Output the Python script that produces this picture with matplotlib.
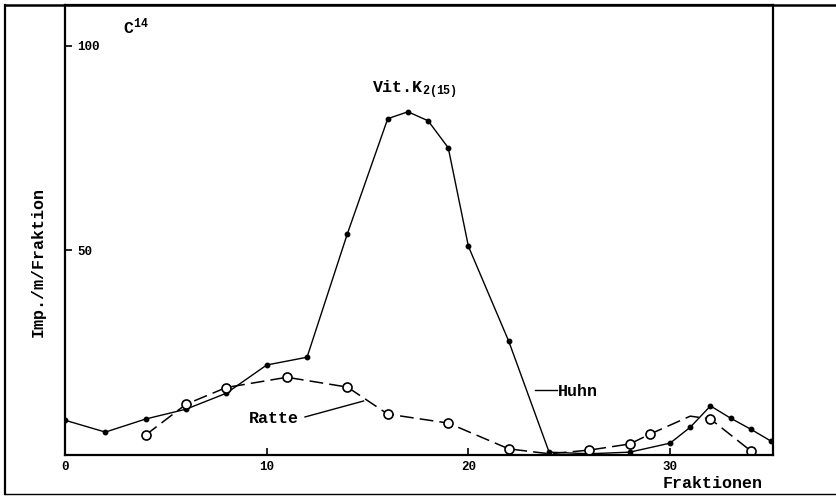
import matplotlib
matplotlib.use("Agg")
import matplotlib.pyplot as plt
from matplotlib.lines import Line2D

# ===================== 数据 =====================
huhn_x = [0, 2, 4, 6, 8, 10, 12, 14, 16, 17, 18, 19, 20, 22, 24, 26, 28, 30, 31, 32, 33, 34, 35]
huhn_y = [8.5, 5.6, 8.8, 11.2, 15.1, 22.0, 23.9, 54.1, 82.2, 83.9, 81.7, 75.1, 51.0, 27.8,
          0.7, 0.3, 0.7, 2.9, 6.8, 12.0, 9.0, 6.3, 3.4]

ratte_x = [4, 6, 8, 11, 14, 16, 19, 22, 24, 26, 28, 29, 31, 32, 34]
ratte_y = [4.9, 12.4, 16.5, 19.0, 16.6, 10.0, 7.8, 1.5, 0.3, 1.2, 2.7, 5.1, 9.5, 8.8, 1.0]
ratte_marked = [0, 1, 2, 3, 4, 5, 6, 7, 9, 10, 11, 13, 14]   # ohne Kreis bei 24 und 31

x_ticks = [0, 10, 20, 30]
y_ticks = [50, 100]

# ===================== 字体 =====================
FONT = "Liberation Mono"
plt.rcParams["font.family"] = [FONT, "DejaVu Sans Mono"]
plt.rcParams["font.weight"] = "bold"
plt.rcParams["mathtext.fontset"] = "custom"
plt.rcParams["mathtext.rm"] = FONT + ":bold"
plt.rcParams["mathtext.it"] = FONT + ":bold"
plt.rcParams["mathtext.bf"] = FONT + ":bold"

W, H = 837, 496
fig = plt.figure(figsize=(W / 100, H / 100), dpi=100)
ax = fig.add_axes([65 / W, 1 - 455 / H, (773 - 65) / W, (455 - 5) / H])

# ===================== 曲线 =====================
ax.plot(huhn_x, huhn_y, color="black", lw=1.0, marker="o", ms=3.2,
        mfc="black", mec="black", solid_joinstyle="round")
ax.plot(ratte_x, ratte_y, color="black", lw=1.1, dashes=(9, 4),
        marker="o", ms=6.5, mfc="white", mec="black", mew=1.2, markevery=ratte_marked)

ax.set_xlim(0, 35.1)
ax.set_ylim(0, 110)

# ===================== 坐标轴 =====================
for s in ax.spines.values():
    s.set_linewidth(1.6)

ax.set_xticks(x_ticks)
ax.set_yticks(y_ticks)
ax.tick_params(axis="x", direction="in", length=5, width=1.2, pad=4, labelsize=9)
ax.tick_params(axis="y", direction="in", length=5, width=1.2, pad=-9, labelsize=9)
for lab in ax.get_yticklabels():
    lab.set_horizontalalignment("left")

# ===================== 文字 =====================
ax.text(2.9, 103, r"C$^{14}$", fontsize=12, ha="left", va="baseline")
ax.text(15.2, 88.5, r"Vit.K$_{2(15)}$", fontsize=12, ha="left", va="baseline")

ax.text(9.1, 7.8, "Ratte", fontsize=12, ha="left", va="baseline")
ax.plot([11.9, 14.8], [9.3, 13.2], color="black", lw=1.0)

ax.text(24.45, 14.4, "Huhn", fontsize=12, ha="left", va="baseline")
ax.plot([23.3, 24.4], [15.9, 15.9], color="black", lw=1.0)

fig.text(38 / W, 1 - 262 / H, "Imp./m/Fraktion", rotation=90, fontsize=12,
         ha="center", va="center")
fig.text(713 / W, 1 - 484 / H, "Fraktionen", fontsize=12, ha="center", va="center")

# ===================== 外框 =====================
fig.add_artist(Line2D([5 / W, 5 / W], [1 - 5 / H, 1 - 494 / H], color="black", lw=1.6))
fig.add_artist(Line2D([5 / W, 1], [1 - 5 / H, 1 - 5 / H], color="black", lw=1.8))
fig.add_artist(Line2D([5 / W, 1], [1 - 494 / H, 1 - 494 / H], color="black", lw=1.0))

fig.savefig("out.png", dpi=100)
